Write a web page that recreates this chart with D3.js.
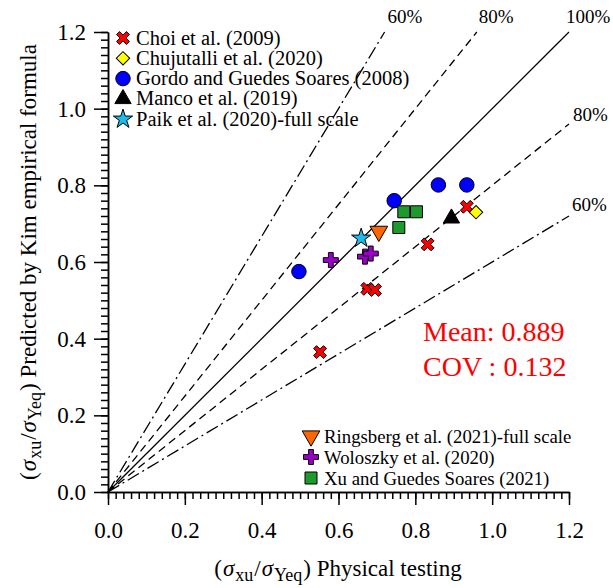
<!DOCTYPE html>
<html>
<head>
<meta charset="utf-8">
<script src="https://cdn.jsdelivr.net/npm/d3@7"></script>
<style>
  body { margin: 0; background: #fff; }
  svg text { font-family: "Liberation Serif", "DejaVu Serif", "Times New Roman", Times, serif; }
</style>
</head>
<body>
<svg width="613" height="588" font-family="Liberation Serif, DejaVu Serif, serif"></svg>
<script>
// data
var choiX = [0.552, 0.675, 0.695, 0.832, 0.934];
var choiY = [0.365, 0.530, 0.527, 0.646, 0.744];
var chujX = [0.958];
var chujY = [0.730];
var gordoX = [0.497, 0.745, 0.860, 0.934];
var gordoY = [0.575, 0.760, 0.801, 0.801];
var mancoX = [0.894];
var mancoY = [0.714];
var paikX = [0.659];
var paikY = [0.662];
var ringX = [0.705];
var ringY = [0.680];
var wolX = [0.580, 0.669, 0.684];
var wolY = [0.605, 0.614, 0.622];
var xuX = [0.757, 0.770, 0.803];
var xuY = [0.690, 0.731, 0.731];

var ratios = [0.6, 0.8, 1.0];      // reference lines y = x*r and y = x/r
var ratioLabels = ["60%", "80%", "100%"];
var majorTicks = [0, 0.2, 0.4, 0.6, 0.8, 1.0, 1.2];
var meanText = "Mean: 0.889";
var covText = "COV : 0.132";

var serif = "Liberation Serif, DejaVu Serif, serif";
var svg = d3.select("svg");
var x = d3.scaleLinear().domain([0, 1.2]).range([108, 569]);
var y = d3.scaleLinear().domain([0, 1.2]).range([492, 32]);

// marker shapes
function plusPath(w, L, rot) {
    var pts = [[-w,-L],[w,-L],[w,-w],[L,-w],[L,w],[w,w],[w,L],[-w,L],[-w,w],[-L,w],[-L,-w],[-w,-w]];
    var a = rot * Math.PI / 180;
    return "M" + pts.map(function (p) {
        return [p[0]*Math.cos(a) - p[1]*Math.sin(a), p[0]*Math.sin(a) + p[1]*Math.cos(a)].join(",");
    }).join("L") + "Z";
}
var shapes = {
    cross: { d: plusPath(2.1, 7, 45), rot: 0 },
    diamond: { d: d3.symbol(d3.symbolSquare, 90)(), rot: 45 },
    circle: { d: d3.symbol(d3.symbolCircle, 165)(), rot: 0 },
    triUp: { d: d3.symbol(d3.symbolTriangle, 115)(), rot: 0 },
    star: { d: d3.symbol(d3.symbolStar, 115)(), rot: 0 },
    triDown: { d: d3.symbol(d3.symbolTriangle, 135)(), rot: 180 },
    plus: { d: plusPath(2.4, 7.5, 0), rot: 0 },
    square: { d: d3.symbol(d3.symbolSquare, 144)(), rot: 0 }
};

var series = [
    { name: "Choi et al. (2009)", xs: choiX, ys: choiY, shape: "cross", color: "#ff0000" },
    { name: "Chujutalli et al. (2020)", xs: chujX, ys: chujY, shape: "diamond", color: "#ffff00" },
    { name: "Gordo and Guedes Soares (2008)", xs: gordoX, ys: gordoY, shape: "circle", color: "#0000ff" },
    { name: "Manco et al. (2019)", xs: mancoX, ys: mancoY, shape: "triUp", color: "#000000" },
    { name: "Paik et al. (2020)-full scale", xs: paikX, ys: paikY, shape: "star", color: "#1ebbe8" },
    { name: "Ringsberg et al. (2021)-full scale", xs: ringX, ys: ringY, shape: "triDown", color: "#ff6600" },
    { name: "Woloszky et al. (2020)", xs: wolX, ys: wolY, shape: "plus", color: "#9b00c8" },
    { name: "Xu and Guedes Soares (2021)", xs: xuX, ys: xuY, shape: "square", color: "#1c9a2c" }
];

// reference lines
var lineG = svg.append("g");
ratios.forEach(function (r, i) {
    var dash = r === 1 ? null : (r === 0.8 ? "8,5" : "13,4,2,4");
    var ends = r === 1 ? [[1.2, 1.2]] : [[1.2 * r, 1.2], [1.2, 1.2 * r]];
    ends.forEach(function (e) {
        lineG.append("line")
            .attr("x1", x(0)).attr("y1", y(0))
            .attr("x2", x(e[0])).attr("y2", y(e[1]))
            .attr("stroke", "#000").attr("stroke-width", 1.3)
            .attr("stroke-dasharray", dash);
    });
});
// line labels
var labG = svg.append("g").attr("font-size", "19px").attr("font-family", serif);
labG.append("text").attr("x", x(0.72) + 3).attr("y", 23).text(ratioLabels[0]);
labG.append("text").attr("x", x(0.96) + 2).attr("y", 23).text(ratioLabels[1]);
labG.append("text").attr("x", 566).attr("y", 23).text(ratioLabels[2]);
labG.append("text").attr("x", 573).attr("y", y(0.96) - 3).text(ratioLabels[1]);
labG.append("text").attr("x", 572).attr("y", y(0.72) - 5).text(ratioLabels[0]);

// axes
var xAxis = d3.axisBottom(x).tickValues(majorTicks).tickFormat(d3.format(".1f"))
    .tickSize(13).tickSizeOuter(0).tickPadding(17);
var yAxis = d3.axisLeft(y).tickValues(majorTicks).tickFormat(d3.format(".1f"))
    .tickSize(14).tickSizeOuter(0).tickPadding(8);
var minor = d3.range(0, 1.2001, 0.02);
var gX = svg.append("g").attr("transform", "translate(0," + y(0) + ")").call(xAxis);
var gY = svg.append("g").attr("transform", "translate(" + x(0) + ",0)").call(yAxis);
svg.append("g").attr("transform", "translate(0," + y(0) + ")")
    .call(d3.axisBottom(x).tickValues(minor).tickFormat("").tickSize(7).tickSizeOuter(0));
svg.append("g").attr("transform", "translate(" + x(0) + ",0)")
    .call(d3.axisLeft(y).tickValues(minor).tickFormat("").tickSize(7).tickSizeOuter(0));
svg.selectAll(".domain, .tick line").attr("stroke", "#000").attr("stroke-width", 1.5);
[gX, gY].forEach(function (g) {
    g.attr("font-family", serif).attr("font-size", 23);
    g.selectAll("text").attr("fill", "#000");
});

// points
series.forEach(function (s) {
    var pts = s.xs.map(function (v, i) { return { x: v, y: s.ys[i] }; });
    svg.append("g").selectAll("path")
        .data(pts)
        .enter()
        .append("path")
        .attr("d", shapes[s.shape].d)
        .attr("transform", function (d) {
            return "translate(" + x(d.x) + "," + y(d.y) + ") rotate(" + shapes[s.shape].rot + ")";
        })
        .attr("fill", s.color)
        .attr("stroke", "#000")
        .attr("stroke-width", 1);
});

// legends
function legend(list, x0, y0, step, fs) {
    var g = svg.append("g").attr("font-family", serif);
    list.forEach(function (s, i) {
        var row = g.append("g").attr("transform", "translate(" + x0 + "," + (y0 + i * step) + ")");
        row.append("path").attr("d", shapes[s.shape].d)
            .attr("transform", "rotate(" + shapes[s.shape].rot + ")")
            .attr("fill", s.color).attr("stroke", "#000").attr("stroke-width", 1);
        row.append("text").attr("x", 13).attr("y", 6.5).attr("font-size", fs + "px").text(s.name);
    });
}
legend(series.slice(0, 5), 123, 38, 20.3, 20.5);
legend(series.slice(5), 311, 436, 21, 18.8);

// statistics
svg.append("text").attr("x", 423).attr("y", 341).attr("font-size", "28px").attr("fill", "#ff0000")
    .attr("font-family", serif).text(meanText);
svg.append("text").attr("x", 423).attr("y", 376).attr("font-size", "28px").attr("fill", "#ff0000")
    .attr("font-family", serif).text(covText);

// axis titles with subscripts
function sigmaTitle(t, rest) {
    t.append("tspan").text("(");
    t.append("tspan").attr("font-style", "italic").attr("dx", 1).text("σ");
    t.append("tspan").attr("font-size", "18px").attr("dy", 5).attr("dx", 1).text("xu");
    t.append("tspan").attr("dy", -5).attr("dx", 1).text("/");
    t.append("tspan").attr("font-style", "italic").attr("dx", 1).text("σ");
    t.append("tspan").attr("font-size", "18px").attr("dy", 5).attr("dx", 1).text("Yeq");
    t.append("tspan").attr("dy", -5).attr("dx", 1).text(")");
    t.append("tspan").text(rest);
}
var xt = svg.append("text").attr("x", 338).attr("y", 576).attr("text-anchor", "middle")
    .attr("font-size", "23px").attr("font-family", serif);
sigmaTitle(xt, " Physical testing");
var yt = svg.append("text").attr("transform", "translate(36,262) rotate(-90)")
    .attr("text-anchor", "middle").attr("font-size", "23px").attr("font-family", serif);
sigmaTitle(yt, " Predicted by Kim empirical formula");
</script>
</body>
</html>
